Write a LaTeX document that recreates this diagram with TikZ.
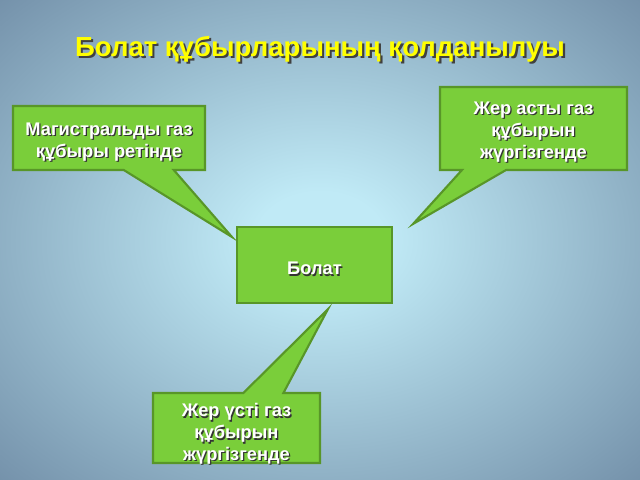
\documentclass[tikz,border=0pt]{standalone}
\usepackage{fontspec}
\setmainfont{Liberation Sans}
\usetikzlibrary{shapes.callouts,calc}
\definecolor{boxgreen}{RGB}{122,206,58}
\definecolor{boxedge}{RGB}{88,150,40}
\definecolor{bglight}{RGB}{192,234,246}
\definecolor{bgdark}{RGB}{98,124,152}
\definecolor{titleyellow}{RGB}{255,255,0}
\pgfdeclareradialshading{bgglow}{\pgfpoint{0bp}{0bp}}{color(0bp)=(bglight); color(5bp)=(bglight); color(43bp)=(bgdark); color(50bp)=(bgdark)}
% white text with a dark drop shadow
\newcommand{\shtext}[1]{\makebox[0pt][l]{\kern0.9pt\raisebox{-0.9pt}{\textcolor{black!80}{#1}}}#1}
\newcommand{\titletext}[1]{\makebox[0pt][l]{\kern1.5pt\raisebox{-1.5pt}{\textcolor{black!75}{#1}}}#1}

\tikzset{
    greenbox/.style={rectangle, draw=boxedge, line width=1.5pt, fill=boxgreen, text=white,
        inner sep=0pt, align=center, font=\bfseries\fontsize{13}{15.6}\selectfont},
    callbox/.style={greenbox, rectangle callout}
}

\begin{document}
\begin{tikzpicture}[x=0.025cm, y=-0.025cm]
    % Background
    \shade[shading=bgglow] (0,0) rectangle (640,480);
    \useasboundingbox (0,0) rectangle (640,480);
    % Title
    \node[font=\bfseries\fontsize{19.6}{24}\selectfont, text=titleyellow] (title) at (320,50) {\titletext{Болат құбырларының қолданылуы}};
    % Centre box
    \node[greenbox, minimum width=3.875cm, minimum height=1.9cm] (bolat) at (314.5,265) {\rule{0pt}{15pt}\shtext{Болат}};
    % Callouts pointing at the centre box
    \node[callbox, minimum width=4.8cm, minimum height=1.6cm, callout pointer width=1.25cm,
        callout absolute pointer={($(bolat.north west)+(-4,11)$)}] (magistral) at (109,138)
        {\rule{0pt}{15.8pt}\shtext{Магистральды газ}\\\shtext{құбыры ретінде}};
    \node[callbox, minimum width=4.675cm, minimum height=2.075cm, callout pointer width=1.1cm,
        callout absolute pointer={($(bolat.north east)+(20,-2)$)}] (underground) at (533.5,128.5)
        {\rule{0pt}{15pt}\shtext{Жер асты газ}\\\shtext{құбырын}\\\shtext{жүргізгенде}};
    \node[callbox, minimum width=4.175cm, minimum height=1.75cm, callout pointer width=1.0cm,
        callout absolute pointer={($(bolat.south)+(13.5,5)$)}] (overground) at (236.5,428)
        {\rule{0pt}{15.3pt}\shtext{Жер үсті газ}\\\shtext{құбырын}\\\raisebox{0pt}[\height][0pt]{\shtext{жүргізгенде}}};
\end{tikzpicture}
\end{document}
